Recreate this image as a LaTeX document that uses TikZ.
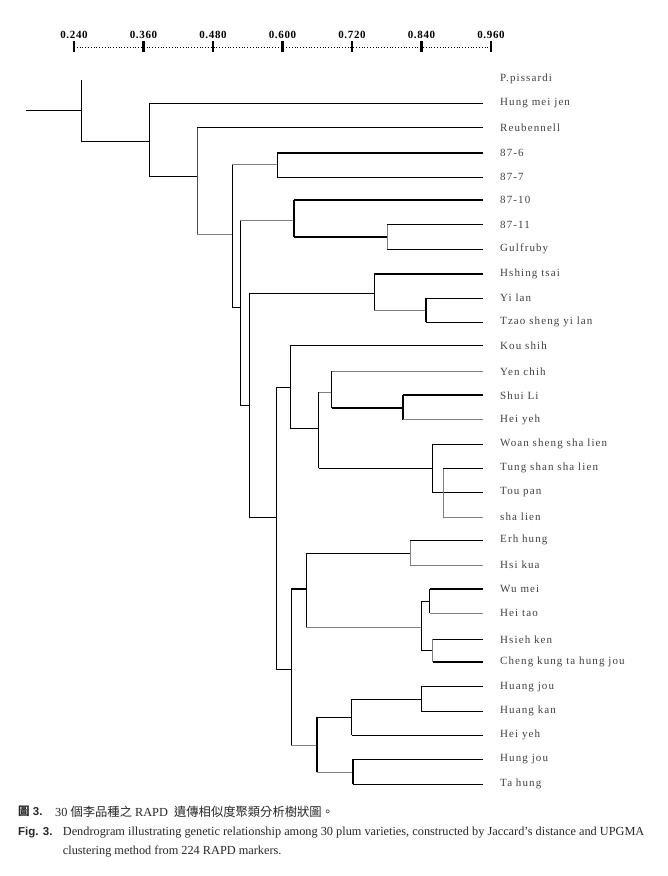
\documentclass[tikz,border=0pt]{standalone}
\usepackage{fontspec}
\setmainfont{Liberation Serif}
\newfontfamily\lblfont{Liberation Serif}[LetterSpace=10]
\newfontfamily\axfont{Liberation Serif}[LetterSpace=6]
\newfontfamily\capsans{Liberation Sans}
\newfontfamily\cjk{Noto Sans CJK TC}
\begin{document}
\begin{tikzpicture}[x=1bp,y=-1bp,
  n/.style={line width=0.9bp,black},
  t/.style={line width=1.8bp,black},
  g/.style={line width=0.9bp,black!50},
  lbl/.style={anchor=west,inner sep=0pt,font=\lblfont\fontsize{11bp}{13bp}\selectfont,text=black!75},
  axlbl/.style={anchor=south,inner sep=0pt,font=\axfont\bfseries\fontsize{11bp}{13bp}\selectfont},
  tickmark/.style={line width=2.4bp,black},
  capt/.style={anchor=west,inner sep=0pt,font=\fontsize{12.3bp}{14bp}\selectfont,text=black!85},
  capb/.style={anchor=west,inner sep=0pt,font=\capsans\bfseries\fontsize{11.5bp}{14bp}\selectfont,text=black!85}]
\useasboundingbox (0,0) rectangle (668,876);
% ---- axis ----
\foreach \v/\x [count=\i] in {0.240/74,0.360/143.5,0.480/213,0.600/282.5,0.720/352,0.840/421.5,0.960/491}{
  \coordinate (tk\i) at (\x,47);
  \draw[tickmark] (\x,41) -- (\x,52);
  \node[axlbl] (ax\i) at (\x,39) {\v};
}
\draw[line width=0.8bp,dotted] (tk1) -- (tk7);
% ---- leaves ----
\foreach \y/\name [count=\i] in {
  79/P.pissardi, 103.3/Hung mei jen, 127.3/Reubennell, 153/87-6, 177.3/87-7,
  200.3/87-10, 224.7/87-11, 249.3/Gulfruby, 273.7/Hshing tsai, 298/Yi lan,
  322.3/Tzao sheng yi lan, 345.3/Kou shih, 371.3/Yen chih, 395.3/Shui Li, 419.7/Hei yeh,
  444.3/Woan sheng sha lien, 468.3/Tung shan sha lien, 492.3/Tou pan, 517/sha lien, 540/Erh hung,
  565/Hsi kua, 589.3/Wu mei, 613.3/Hei tao, 639.3/Hsieh ken, 662/Cheng kung ta hung jou,
  686.7/Huang jou, 711/Huang kan, 735/Hei yeh, 759.3/Hung jou, 784/Ta hung}{
  \coordinate (lf\i) at (483,\y);
  \node[lbl] (lab\i) at (500,\y) {\name};
}
% ---- internal node coordinates (top / bottom of each vertical) ----
\coordinate (R0) at (26,110.3);
\coordinate (Rt) at (81,80);   \coordinate (Rb) at (81,141);
\coordinate (At) at (149,103.3); \coordinate (Ab) at (149,176);
\coordinate (Bt) at (197,127.3); \coordinate (Bb) at (197,234);
\coordinate (Ct) at (232,164.7); \coordinate (Cb) at (232,307);
\coordinate (Dt) at (277,153);   \coordinate (Db) at (277,177.3);
\coordinate (Et) at (240,220.7); \coordinate (Eb) at (240,405);
\coordinate (Ft) at (294,200.3); \coordinate (Fb) at (294,237.3);
\coordinate (Gt) at (387,224.7); \coordinate (Gb) at (387,249.3);
\coordinate (Ht) at (249,293.3); \coordinate (Hb) at (249,517.3);
\coordinate (It) at (374,273.7); \coordinate (Ib) at (374,310);
\coordinate (Jt) at (426,298);   \coordinate (Jb) at (426,322.3);
\coordinate (Kt) at (276,387.3); \coordinate (Kb) at (276,669.3);
\coordinate (Lt) at (290.7,345.3); \coordinate (Lb) at (290.7,428.7);
\coordinate (Mt) at (318.7,392); \coordinate (Mb) at (318.7,468);
\coordinate (Nt) at (331.7,371.3); \coordinate (Nb) at (331.7,408);
\coordinate (Ot) at (403,395.3); \coordinate (Ob) at (403,419.7);
\coordinate (Pt) at (432,444.3); \coordinate (Pb) at (432,492.3);
\coordinate (Qt) at (443,468.3); \coordinate (Qb) at (443,517);
\coordinate (St) at (306,553.3); \coordinate (Sb) at (306,627.3);
\coordinate (RRt) at (291.3,589.3); \coordinate (RRb) at (291.3,745.3);
\coordinate (Tt) at (410,540);   \coordinate (Tb) at (410,565);
\coordinate (Ut) at (421,601);   \coordinate (Ub) at (421,650);
\coordinate (Vt) at (429.7,589.3); \coordinate (Vb) at (429.7,613.3);
\coordinate (Wt) at (432.7,639.3); \coordinate (Wb) at (432.7,662);
\coordinate (Xt) at (317.3,717.3); \coordinate (Xb) at (317.3,772);
\coordinate (Yt) at (351.7,699);  \coordinate (Yb) at (351.7,735);
\coordinate (Zt) at (421.3,686.7); \coordinate (Zb) at (421.3,711);
\coordinate (AAt) at (353,759.3); \coordinate (AAb) at (353,784);
% ---- connectors ----
\draw[n] (R0) -- (R0 -| Rt);
\draw[n] (Rt) -- (Rb);
\draw[n] (Rb) -- (Rb -| At);
\draw[n] (At) -- (Ab);  \draw[n] (At) -- (lf2);  \draw[n] (Ab) -- (Ab -| Bt);
\draw[line width=0.9bp,black!70] (Bt) -- (Bb);  \draw[n] (Bt) -- (lf3);  \draw[g] (Bb) -- (Bb -| Ct);
\draw[n] (Ct) -- (Cb);  \draw[g] (Ct) -- (Ct -| Dt); \draw[n] (Cb) -- (Cb -| Et);
\draw[n] (Dt) -- (Db);  \draw[t] (Dt) -- (lf4);  \draw[n] (Db) -- (lf5);
\draw[n] (Et) -- (Eb);  \draw[g] (Et) -- (Et -| Ft); \draw[n] (Eb) -- (Eb -| Ht);
\draw[t] (Ft) -- (Fb);  \draw[t] (Ft) -- (lf6);  \draw[t] (Fb) -- (Fb -| Gt);
\draw[g] (Gt) -- (Gb);  \draw[n] (Gt) -- (lf7);  \draw[n] (Gb) -- (lf8);
\draw[n] (Ht) -- (Hb);  \draw[n] (Ht) -- (Ht -| It); \draw[n] (Hb) -- (Hb -| Kt);
\draw[n] (It) -- (Ib);  \draw[t] (It) -- (lf9);  \draw[g] (Ib) -- (Ib -| Jt);
\draw[t] (Jt) -- (Jb);  \draw[n] (Jt) -- (lf10); \draw[n] (Jb) -- (lf11);
\draw[n] (Kt) -- (Kb);  \draw[n] (Kt) -- (Kt -| Lt); \draw[n] (Kb) -- (Kb -| RRt);
\draw[n] (Lt) -- (Lb);  \draw[n] (Lt) -- (lf12); \draw[n] (Lb) -- (Lb -| Mt);
\draw[n] (Mt) -- (Mb);  \draw[g] (Mt) -- (Mt -| Nt); \draw[n] (Mb) -- (Mb -| Pt);
\draw[n] (Nt) -- (Nb);  \draw[g] (Nt) -- (lf13); \draw[t] (Nb) -- (Nb -| Ot);
\draw[t] (Ot) -- (Ob);  \draw[t] (Ot) -- (lf14); \draw[g] (Ob) -- (lf15);
\draw[n] (Pt) -- (Pb);  \draw[n] (Pt) -- (lf16); \draw[n] (Pb) -- (lf18);
\draw[g] (Qt) -- (Qb);  \draw[n] (Qt) -- (lf17); \draw[g] (Qb) -- (lf19);
\draw[n] (RRt) -- (RRb); \draw[t] (RRt) -- (RRt -| St); \draw[g] (RRb) -- (RRb -| Xt);
\draw[n] (St) -- (Sb);  \draw[n] (St) -- (St -| Tt); \draw[g] (Sb) -- (Sb -| Ut);
\draw[g] (Tt) -- (Tb);  \draw[n] (Tt) -- (lf20); \draw[g] (Tb) -- (lf21);
\draw[n] (Ut) -- (Ub);  \draw[n] (Ut) -- (Ut -| Vt); \draw[n] (Ub) -- (Ub -| Wt);
\draw[n] (Vt) -- (Vb);  \draw[t] (Vt) -- (lf22); \draw[g] (Vb) -- (lf23);
\draw[g] (Wt) -- (Wb);  \draw[n] (Wt) -- (lf24); \draw[t] (Wb) -- (lf25);
\draw[t] (Xt) -- (Xb);  \draw[n] (Xt) -- (Xt -| Yt); \draw[g] (Xb) -- (Xb -| AAt);
\draw[n] (Yt) -- (Yb);  \draw[n] (Yt) -- (Yt -| Zt); \draw[n] (Yb) -- (lf28);
\draw[n] (Zt) -- (Zb);  \draw[n] (Zt) -- (lf26); \draw[n] (Zb) -- (lf27);
\draw[t] (AAt) -- (AAb); \draw[n] (AAt) -- (lf29); \draw[n] (AAb) -- (lf30);
% ---- caption ----
\node[capb] (c1a) at (18,811.7) {{\cjk 圖}\ 3.};
\node[capt] (c1b) at (55,811.7) {30 {\cjk 個李品種之} RAPD\ \ {\cjk 遺傳相似度聚類分析樹狀圖。}};
\node[capb] (c2a) at (18,832.7) {Fig. 3.};
\node[capt] (c2b) at (62.7,832.7) {Dendrogram illustrating genetic relationship among 30 plum varieties, constructed by Jaccard’s distance and UPGMA};
\node[capt] (c3) at (62.7,851) {clustering method from 224 RAPD markers.};
\end{tikzpicture}
\end{document}
